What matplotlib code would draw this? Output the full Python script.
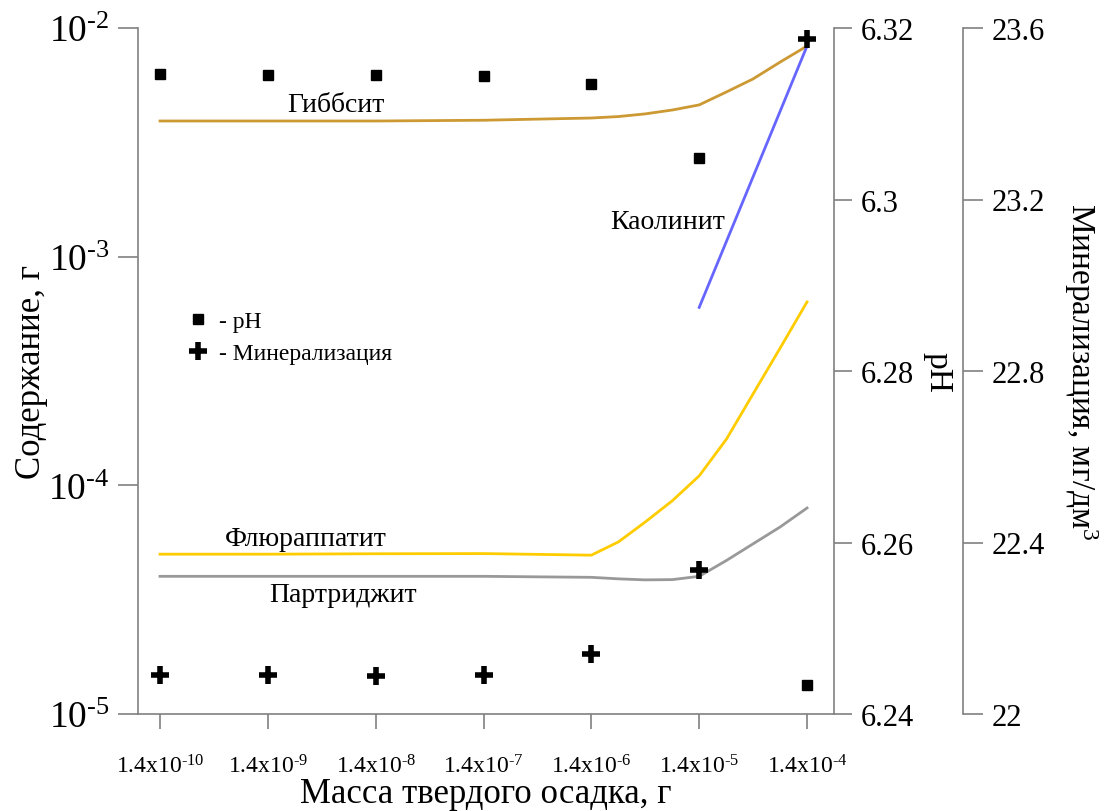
import numpy as np
import matplotlib
matplotlib.use("Agg")
import matplotlib.pyplot as plt
from matplotlib.lines import Line2D
from matplotlib.ticker import FormatStrFormatter, NullLocator

plt.rcParams['font.family'] = ['Liberation Serif', 'DejaVu Serif']
plt.rcParams['mathtext.fontset'] = 'custom'
plt.rcParams['mathtext.rm'] = 'Liberation Serif'
plt.rcParams['mathtext.it'] = 'Liberation Serif:italic'

# масса твердого осадка, г (точки измерений)
mass = [1.4e-10, 1.4e-9, 1.4e-8, 1.4e-7, 1.4e-6, 1.4e-5, 1.4e-4]
mass_labels = ['1.4x10$^{\\text{-10}}$', '1.4x10$^{\\text{-9}}$', '1.4x10$^{\\text{-8}}$',
               '1.4x10$^{\\text{-7}}$', '1.4x10$^{\\text{-6}}$', '1.4x10$^{\\text{-5}}$',
               '1.4x10$^{\\text{-4}}$']
ph = [6.3146, 6.3145, 6.3145, 6.3144, 6.3135, 6.3048, 6.2434]
mineral = [22.091, 22.091, 22.089, 22.091, 22.140, 22.336, 23.574]

# кривые содержания минералов, г
mass_curve = [1.4e-10, 1.4e-9, 1.4e-8, 1.4e-7, 1.4e-6, 2.5e-6, 4.4e-6, 7.9e-6,
              1.4e-5, 2.5e-5, 4.4e-5, 7.9e-5, 1.4e-4]
gibbsite = [3.92e-3, 3.92e-3, 3.92e-3, 3.95e-3, 4.04e-3, 4.10e-3, 4.21e-3, 4.38e-3,
            4.61e-3, 5.25e-3, 5.98e-3, 7.1e-3, 8.34e-3]
fluorapatite = [5.0e-5, 5.0e-5, 5.02e-5, 5.03e-5, 4.95e-5, 5.66e-5, 6.9e-5, 8.57e-5,
                1.10e-4, 1.59e-4, 2.5e-4, 3.99e-4, 6.34e-4]
partridgeite = [4.0e-5, 4.0e-5, 4.0e-5, 4.0e-5, 3.96e-5, 3.9e-5, 3.86e-5, 3.87e-5,
                4.0e-5, 4.69e-5, 5.54e-5, 6.58e-5, 7.96e-5]
mass_kaolinite = [1.4e-5, 1.4e-4]
kaolinite = [6.0e-4, 8.34e-3]

spine_col = '#808080'

fig = plt.figure(figsize=(11.06, 8.12), dpi=100)
ax = fig.add_axes([138 / 1106, 1 - 715 / 812, (834 - 138) / 1106, (715 - 29) / 812])

ax.plot(mass_curve, gibbsite, color='#CC9933', lw=2)
ax.plot(mass_curve, fluorapatite, color='#FFCC00', lw=2)
ax.plot(mass_curve, partridgeite, color='#999999', lw=2)
ax.plot(mass_kaolinite, kaolinite, color='#6666FF', lw=2)

ax.set_xscale('log')
ax.set_yscale('log')
ax.set_xlim(1.4e-10 / 10 ** 0.204, 1.4e-4 * 10 ** 0.25)
ax.set_ylim(1e-5, 1e-2)
ax.set_yticks([1e-5, 1e-4, 1e-3, 1e-2])
ax.set_yticklabels(['10$^{\\text{-5}}$', '10$^{\\text{-4}}$', '10$^{\\text{-3}}$', '10$^{\\text{-2}}$'])
ax.yaxis.set_minor_locator(NullLocator())
ax.set_xticks(mass)
ax.set_xticklabels(mass_labels)
ax.xaxis.set_minor_locator(NullLocator())
ax.tick_params(axis='y', direction='out', length=14.5, width=1.2, color=spine_col,
               labelsize=27, pad=6)
ax.tick_params(axis='x', direction='out', length=11, width=1.2, color=spine_col,
               labelsize=17, pad=18)
for s in ['top', 'right']:
    ax.spines[s].set_visible(False)
for s in ['left', 'bottom']:
    ax.spines[s].set_color(spine_col)
    ax.spines[s].set_linewidth(1.2)
ax.set_ylabel('Содержание, г', fontsize=25, labelpad=0)
ax.set_xlabel('Масса твердого осадка, г', fontsize=25, labelpad=0)

ax.annotate('Гиббсит', xy=(1.4e-9, 3.92e-3), xytext=(336 - 138, 812 - 106 - 97),
            textcoords='axes pixels', fontsize=20, ha='center', va='center')
ax.annotate('Каолинит', xy=(1.4e-5, 6e-4), xytext=(668 - 138, 812 - 223 - 97),
            textcoords='axes pixels', fontsize=20, ha='center', va='center')
ax.annotate('Флюраппатит', xy=(1.4e-9, 5e-5), xytext=(306 - 138, 812 - 540 - 97),
            textcoords='axes pixels', fontsize=20, ha='center', va='center')
ax.annotate('Партриджит', xy=(1.4e-9, 4e-5), xytext=(343 - 138, 812 - 596 - 97),
            textcoords='axes pixels', fontsize=20, ha='center', va='center')

# pH
ax2 = ax.twinx()
ax2.plot(mass, ph, 's', color='black', ms=7, ls='none')
ax2.set_ylim(6.24, 6.32)
ax2.set_yticks([6.24, 6.26, 6.28, 6.30, 6.32])
ax2.yaxis.set_major_formatter(FormatStrFormatter('%g'))
ax2.tick_params(axis='y', direction='out', length=13, width=1.2, color=spine_col,
                labelsize=22, pad=6)
for s in ['top', 'left', 'bottom']:
    ax2.spines[s].set_visible(False)
ax2.spines['right'].set_color(spine_col)
ax2.spines['right'].set_linewidth(1.2)
ax2.set_ylabel('pH', fontsize=24, rotation=270, labelpad=6, va='bottom')

# минерализация
ax3 = ax.twinx()
ax3.spines['right'].set_position(('axes', (963 - 138) / (834 - 138)))
ax3.plot(mass, mineral, '+', color='black', ms=13, mew=4, ls='none')
ax3.set_ylim(22, 23.6)
ax3.set_yticks([22, 22.4, 22.8, 23.2, 23.6])
ax3.yaxis.set_major_formatter(FormatStrFormatter('%g'))
ax3.tick_params(axis='y', direction='out', length=14.5, width=1.2, color=spine_col,
                labelsize=22, pad=6)
for s in ['top', 'left', 'bottom']:
    ax3.spines[s].set_visible(False)
ax3.spines['right'].set_color(spine_col)
ax3.spines['right'].set_linewidth(1.2)
ax3.set_ylabel('Минерализация, мг/дм$^3$', fontsize=24, rotation=270, labelpad=12, va='bottom')

handles = [Line2D([], [], marker='s', color='black', ms=7, ls='none'),
           Line2D([], [], marker='+', color='black', ms=13, mew=4, ls='none')]
fig.legend(handles, ['- pH', '- Минерализация'], loc='upper left',
           bbox_to_anchor=(174 / 1106, 1 - 300 / 812), frameon=False, fontsize=17,
           handlelength=1.0, handletextpad=0.4, labelspacing=0.45, borderpad=0)

fig.savefig('out.png', dpi=100)
